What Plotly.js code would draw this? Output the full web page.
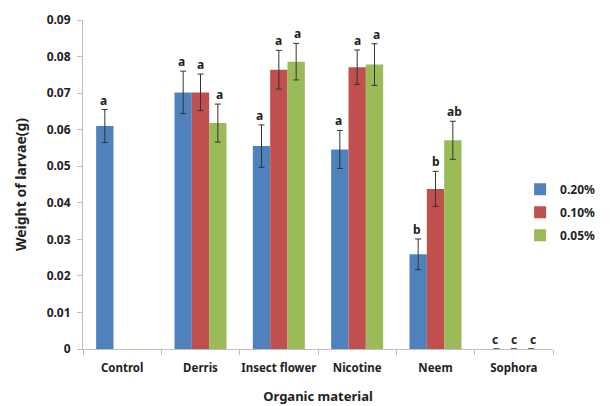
<!DOCTYPE html>
<html>
<head>
<meta charset="utf-8">
<script src="https://cdn.plot.ly/plotly-3.0.1.min.js"></script>
<style>html,body{margin:0;padding:0;background:#fff;}#chart{width:612px;height:406px;}</style>
</head>
<body>
<div id="chart"></div>
<script>
var categories = ["Control", "Derris", "Insect flower", "Nicotine", "Neem", "Sophora"];
var seriesNames = ["0.20%", "0.10%", "0.05%"];
var val020 = [0.0610, 0.0702, 0.0555, 0.0546, 0.0259, 0];
var val010 = [null, 0.0702, 0.0764, 0.0771, 0.0438, 0];
var val005 = [null, 0.0618, 0.0786, 0.0778, 0.0571, 0];
var err020 = [0.0045, 0.0058, 0.0058, 0.0052, 0.0042, 0];
var err010 = [null, 0.0050, 0.0053, 0.0047, 0.0048, 0];
var err005 = [null, 0.0052, 0.0050, 0.0057, 0.0052, 0];
var lab020 = ["a", "a", "a", "a", "b", "c"];
var lab010 = ["", "a", "a", "a", "b", "c"];
var lab005 = ["", "a", "a", "a", "ab", "c"];
var yTicks = [0, 0.01, 0.02, 0.03, 0.04, 0.05, 0.06, 0.07, 0.08, 0.09];
var yTickText = ["0", "0.01", "0.02", "0.03", "0.04", "0.05", "0.06", "0.07", "0.08", "0.09"];

var colors = ["#4F81BD", "#C0504D", "#9BBB59"];
var vals = [val020, val010, val005];
var errs = [err020, err010, err005];
var labs = [lab020, lab010, lab005];
var FONT = "Noto Sans, DejaVu Sans, sans-serif";

var traces = vals.map(function (v, i) {
  return {
    type: "bar",
    name: seriesNames[i],
    legendgroup: "g" + i,
    x: categories,
    y: v,
    marker: {color: colors[i]},
    error_y: {type: "data", array: errs[i], visible: true, color: "#333333", thickness: 1, width: 3}
  };
});

var shifts = [-19, 0, 19];
var annotations = [];
vals.forEach(function (v, i) {
  categories.forEach(function (c, j) {
    if (v[j] === null || !labs[i][j]) return;
    annotations.push({
      x: c, y: v[j] + (errs[i][j] || 0), xref: "x", yref: "y",
      text: "<b>" + labs[i][j] + "</b>", showarrow: false,
      xshift: shifts[i], yanchor: "bottom", yshift: -1,
      font: {family: FONT, size: 12, color: "#222"}
    });
  });
});

var layout = {
  width: 612, height: 406,
  margin: {l: 83, r: 14, t: 20, b: 57},
  paper_bgcolor: "#fff", plot_bgcolor: "#fff",
  barmode: "group", bargap: 0.336, bargroupgap: 0,
  font: {family: FONT, color: "#222"},
  xaxis: {
    type: "category",
    showline: true, linecolor: "#BFBFBF", linewidth: 1,
    ticks: "outside", tickson: "boundaries", ticklen: 5, tickcolor: "#BFBFBF",
    tickangle: 0, automargin: false, ticklabelstandoff: 8,
    tickfont: {family: FONT, size: 11.5, color: "#222", weight: "bold"},
    title: {text: "<b>Organic material</b>", font: {family: FONT, size: 13, color: "#222"}, standoff: 18},
    showgrid: false, zeroline: false
  },
  yaxis: {
    range: [0, 0.09],
    tickvals: yTicks, ticktext: yTickText,
    showline: true, linecolor: "#BFBFBF", linewidth: 1,
    ticks: "outside", ticklen: 5, tickcolor: "#BFBFBF", automargin: false, ticklabelstandoff: 4,
    tickfont: {family: FONT, size: 12, color: "#222", weight: "bold"},
    title: {text: "<b>Weight of larvae(g)</b>", font: {family: FONT, size: 14, color: "#222"}, standoff: 16},
    showgrid: false, zeroline: false
  },
  showlegend: true,
  legend: {
    x: 0.93, y: 0.53, xanchor: "left", yanchor: "top",
    font: {family: FONT, size: 12, color: "#222", weight: "bold"},
    traceorder: "grouped",
    itemwidth: 30, tracegroupgap: 4, bgcolor: "rgba(0,0,0,0)"
  },
  annotations: annotations
};

Plotly.newPlot("chart", traces, layout, {displayModeBar: false, staticPlot: true});
</script>
</body>
</html>
